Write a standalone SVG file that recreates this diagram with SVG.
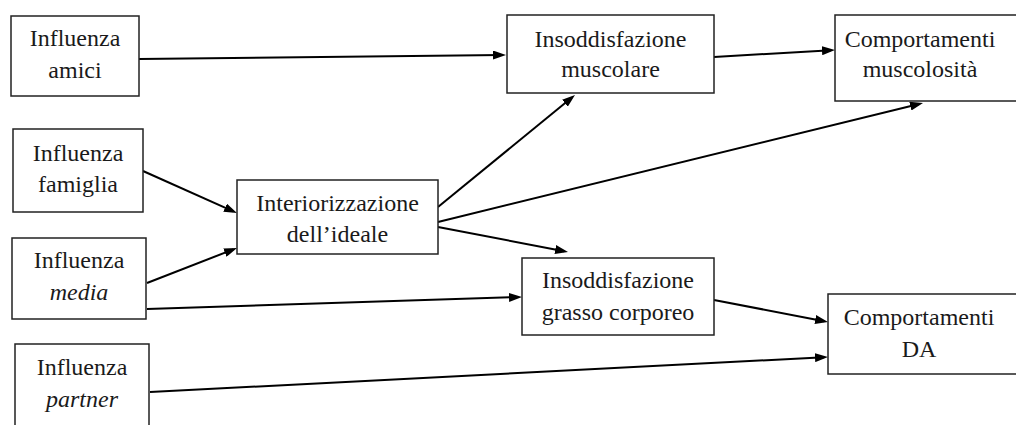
<svg xmlns="http://www.w3.org/2000/svg" width="1016" height="425" viewBox="0 0 1016 425">
<style>
.box{fill:#fff;stroke:#222;stroke-width:1.5}
.t{font-family:'Liberation Serif','DejaVu Serif','Times New Roman',serif;font-size:24px;fill:#1a1a1a;text-anchor:middle}
.i{font-style:italic}
.c{fill:none;stroke:#000;stroke-width:2}
</style>
<defs>
<marker id="ah" markerUnits="userSpaceOnUse" markerWidth="13" markerHeight="9" refX="9" refY="4.5" orient="auto">
<path d="M0,0 L13,4.5 L0,9 z" fill="#000"/>
</marker>
</defs>
<rect width="1016" height="425" fill="#fff"/>
<g id="connectors">
<line class="c" x1="139" y1="59" x2="502" y2="55" marker-end="url(#ah)"/>
<line class="c" x1="714" y1="57" x2="831" y2="50.2" marker-end="url(#ah)"/>
<line class="c" x1="143" y1="171" x2="233.3" y2="211.4" marker-end="url(#ah)"/>
<line class="c" x1="147" y1="283" x2="233.3" y2="249.4" marker-end="url(#ah)"/>
<line class="c" x1="438" y1="207" x2="571.9" y2="97.5" marker-end="url(#ah)"/>
<line class="c" x1="438" y1="222" x2="919.1" y2="104" marker-end="url(#ah)"/>
<line class="c" x1="438" y1="227" x2="564.1" y2="251.2" marker-end="url(#ah)"/>
<line class="c" x1="147" y1="309" x2="518" y2="297.1" marker-end="url(#ah)"/>
<line class="c" x1="714" y1="300" x2="824.1" y2="321.2" marker-end="url(#ah)"/>
<line class="c" x1="150" y1="392" x2="824" y2="357.2" marker-end="url(#ah)"/>
</g>
<g id="amici">
<rect class="box" x="11" y="16" width="128" height="80"/>
<text class="t" font-family="Liberation Serif, serif" x="75" y="46">Influenza</text>
<text class="t" font-family="Liberation Serif, serif" x="75" y="78">amici</text>
</g>
<g id="famiglia">
<rect class="box" x="13" y="129" width="130" height="83"/>
<text class="t" font-family="Liberation Serif, serif" x="78" y="161">Influenza</text>
<text class="t" font-family="Liberation Serif, serif" x="78" y="192">famiglia</text>
</g>
<g id="media">
<rect class="box" x="12" y="238" width="134" height="81"/>
<text class="t" font-family="Liberation Serif, serif" x="79" y="268">Influenza</text>
<text class="t i" font-family="Liberation Serif, serif" x="79" y="300">media</text>
</g>
<g id="partner">
<rect class="box" x="15" y="344" width="134" height="90"/>
<text class="t" font-family="Liberation Serif, serif" x="82" y="375">Influenza</text>
<text class="t i" font-family="Liberation Serif, serif" x="82" y="407">partner</text>
</g>
<g id="interiorizzazione">
<rect class="box" x="237" y="180" width="201" height="74"/>
<text class="t" font-family="Liberation Serif, serif" x="337.5" y="211">Interiorizzazione</text>
<text class="t" font-family="Liberation Serif, serif" x="337.5" y="242">dell’ideale</text>
</g>
<g id="insoddisfazione-muscolare">
<rect class="box" x="507" y="15" width="207" height="78"/>
<text class="t" font-family="Liberation Serif, serif" x="610.5" y="47">Insoddisfazione</text>
<text class="t" font-family="Liberation Serif, serif" x="610.5" y="77">muscolare</text>
</g>
<g id="insoddisfazione-grasso">
<rect class="box" x="522" y="258" width="192" height="77"/>
<text class="t" font-family="Liberation Serif, serif" x="618" y="288">Insoddisfazione</text>
<text class="t" font-family="Liberation Serif, serif" x="618" y="320">grasso corporeo</text>
</g>
<g id="comportamenti-muscolosita">
<rect class="box" x="835" y="15" width="186" height="86"/>
<text class="t" font-family="Liberation Serif, serif" x="920" y="47">Comportamenti</text>
<text class="t" font-family="Liberation Serif, serif" x="920" y="77">muscolosità</text>
</g>
<g id="comportamenti-da">
<rect class="box" x="828" y="294" width="193" height="80"/>
<text class="t" font-family="Liberation Serif, serif" x="919" y="325">Comportamenti</text>
<text class="t" font-family="Liberation Serif, serif" x="919" y="357">DA</text>
</g>
</svg>
